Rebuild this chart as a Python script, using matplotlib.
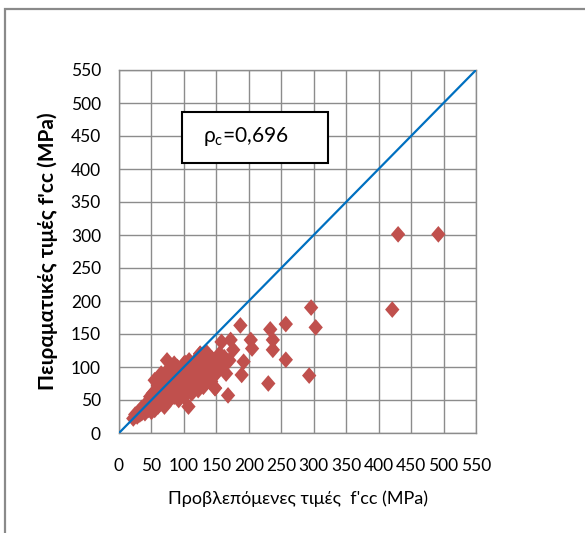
import matplotlib
matplotlib.use("Agg")
import matplotlib.pyplot as plt
from matplotlib.path import Path
from matplotlib.patches import Rectangle

plt.rcParams['font.family'] = ['Lato', 'DejaVu Sans']
plt.rcParams['mathtext.fontset'] = 'custom'
plt.rcParams['mathtext.rm'] = 'Lato'
plt.rcParams['mathtext.it'] = 'Lato:italic'

# Predicted vs experimental confined strength f'cc (MPa)
predicted = [
    22, 25, 28, 30, 32, 35, 35, 38, 40, 40, 42, 45, 45, 48, 48, 50, 50, 52, 52, 55,
    55, 55, 58, 58, 60, 60, 60, 62, 62, 65, 65, 65, 68, 68, 70, 70, 70, 72, 72, 74,
    75, 75, 75, 78, 78, 80, 80, 80, 82, 85, 85, 85, 88, 88, 90, 90, 90, 92, 95, 95,
    95, 98, 98, 100, 100, 100, 102, 105, 105, 105, 107, 108, 110, 110, 112, 112, 115, 115, 118, 118,
    120, 122, 122, 125, 125, 128, 128, 130, 130, 132, 135, 135, 138, 140, 140, 142, 143, 145, 148, 148,
    150, 152, 155, 158, 160, 162, 165, 168, 170, 172, 176, 187, 189, 192, 203, 205, 230, 233, 237, 237,
    257, 257, 293, 296, 303, 421, 430, 492, 102, 115, 125, 148, 55, 65, 85, 135,
]
experimental = [
    22, 28, 25, 32, 28, 30, 38, 35, 42, 30, 38, 48, 35, 40, 55, 45, 32, 50, 60, 42,
    55, 35, 48, 65, 40, 55, 72, 50, 62, 45, 58, 75, 52, 68, 40, 60, 85, 55, 72, 110,
    65, 48, 95, 58, 80, 52, 70, 90, 62, 75, 55, 95, 68, 85, 60, 78, 100, 50, 70, 88,
    62, 80, 95, 55, 72, 105, 88, 65, 80, 98, 40, 110, 72, 90, 60, 100, 70, 85, 95, 110,
    80, 100, 65, 120, 90, 78, 105, 95, 70, 112, 85, 100, 118, 90, 105, 78, 113, 100, 68, 88,
    110, 95, 120, 138, 100, 115, 90, 57, 110, 141, 126, 163, 88, 108, 141, 128, 75, 157, 141, 126,
    165, 111, 87, 190, 160, 187, 301, 301, 106, 70, 120, 68, 80, 90, 105, 122,
]
ref_line_x = [0, 550]
ref_line_y = [0, 550]
ticks = list(range(0, 551, 50))

fig = plt.figure(figsize=(5.85, 5.33), dpi=100)
W, H = 585, 533

# outer chart frame
fig.patches.append(Rectangle((4.5, -20), 620, H - 8.5 + 20, transform=None,
                             fill=False, edgecolor='#8a8a8a', linewidth=1.6))

ax = fig.add_axes([119 / W, 1 - 433 / H, (476 - 119) / W, (433 - 70) / H])
ax.set_xlim(0, 550)
ax.set_ylim(0, 550)
ax.set_xticks(ticks)
ax.set_yticks(ticks)
ax.grid(True, color='#8c8c8c', linewidth=1.0)
ax.set_axisbelow(True)
for s in ax.spines.values():
    s.set_color('#8c8c8c')
    s.set_linewidth(1.0)
ax.tick_params(length=0, labelsize=12.5, colors='black')
ax.tick_params(axis='x', pad=18)
ax.tick_params(axis='y', pad=13)

diamond = Path([(0, 1), (0.86, 0), (0, -1), (-0.86, 0), (0, 1)],
               [Path.MOVETO, Path.LINETO, Path.LINETO, Path.LINETO, Path.CLOSEPOLY])
ax.scatter(predicted, experimental, marker=diamond, s=12 ** 2,
           color='#c0504d', edgecolors='none', zorder=3)
ax.plot(ref_line_x, ref_line_y, color='#0070c0', linewidth=1.6, zorder=4)

ax.set_xlabel("Προβλεπόμενες τιμές  f'cc (MPa)", fontsize=13, labelpad=12)
ax.set_ylabel("Πειραματικές τιμές f'cc (MPa)", fontsize=15, fontweight='bold', labelpad=9)

# correlation coefficient box
fig.patches.append(Rectangle((182, H - 163), 146, 51, transform=None,
                             facecolor='white', edgecolor='black', linewidth=1.5, zorder=5))
fig.text(203 / W, 1 - 137 / H, r'$\mathregular{\rho_c}$=0,696', fontsize=15,
         va='center', ha='left', zorder=6)

fig.savefig('out.png', dpi=100)
